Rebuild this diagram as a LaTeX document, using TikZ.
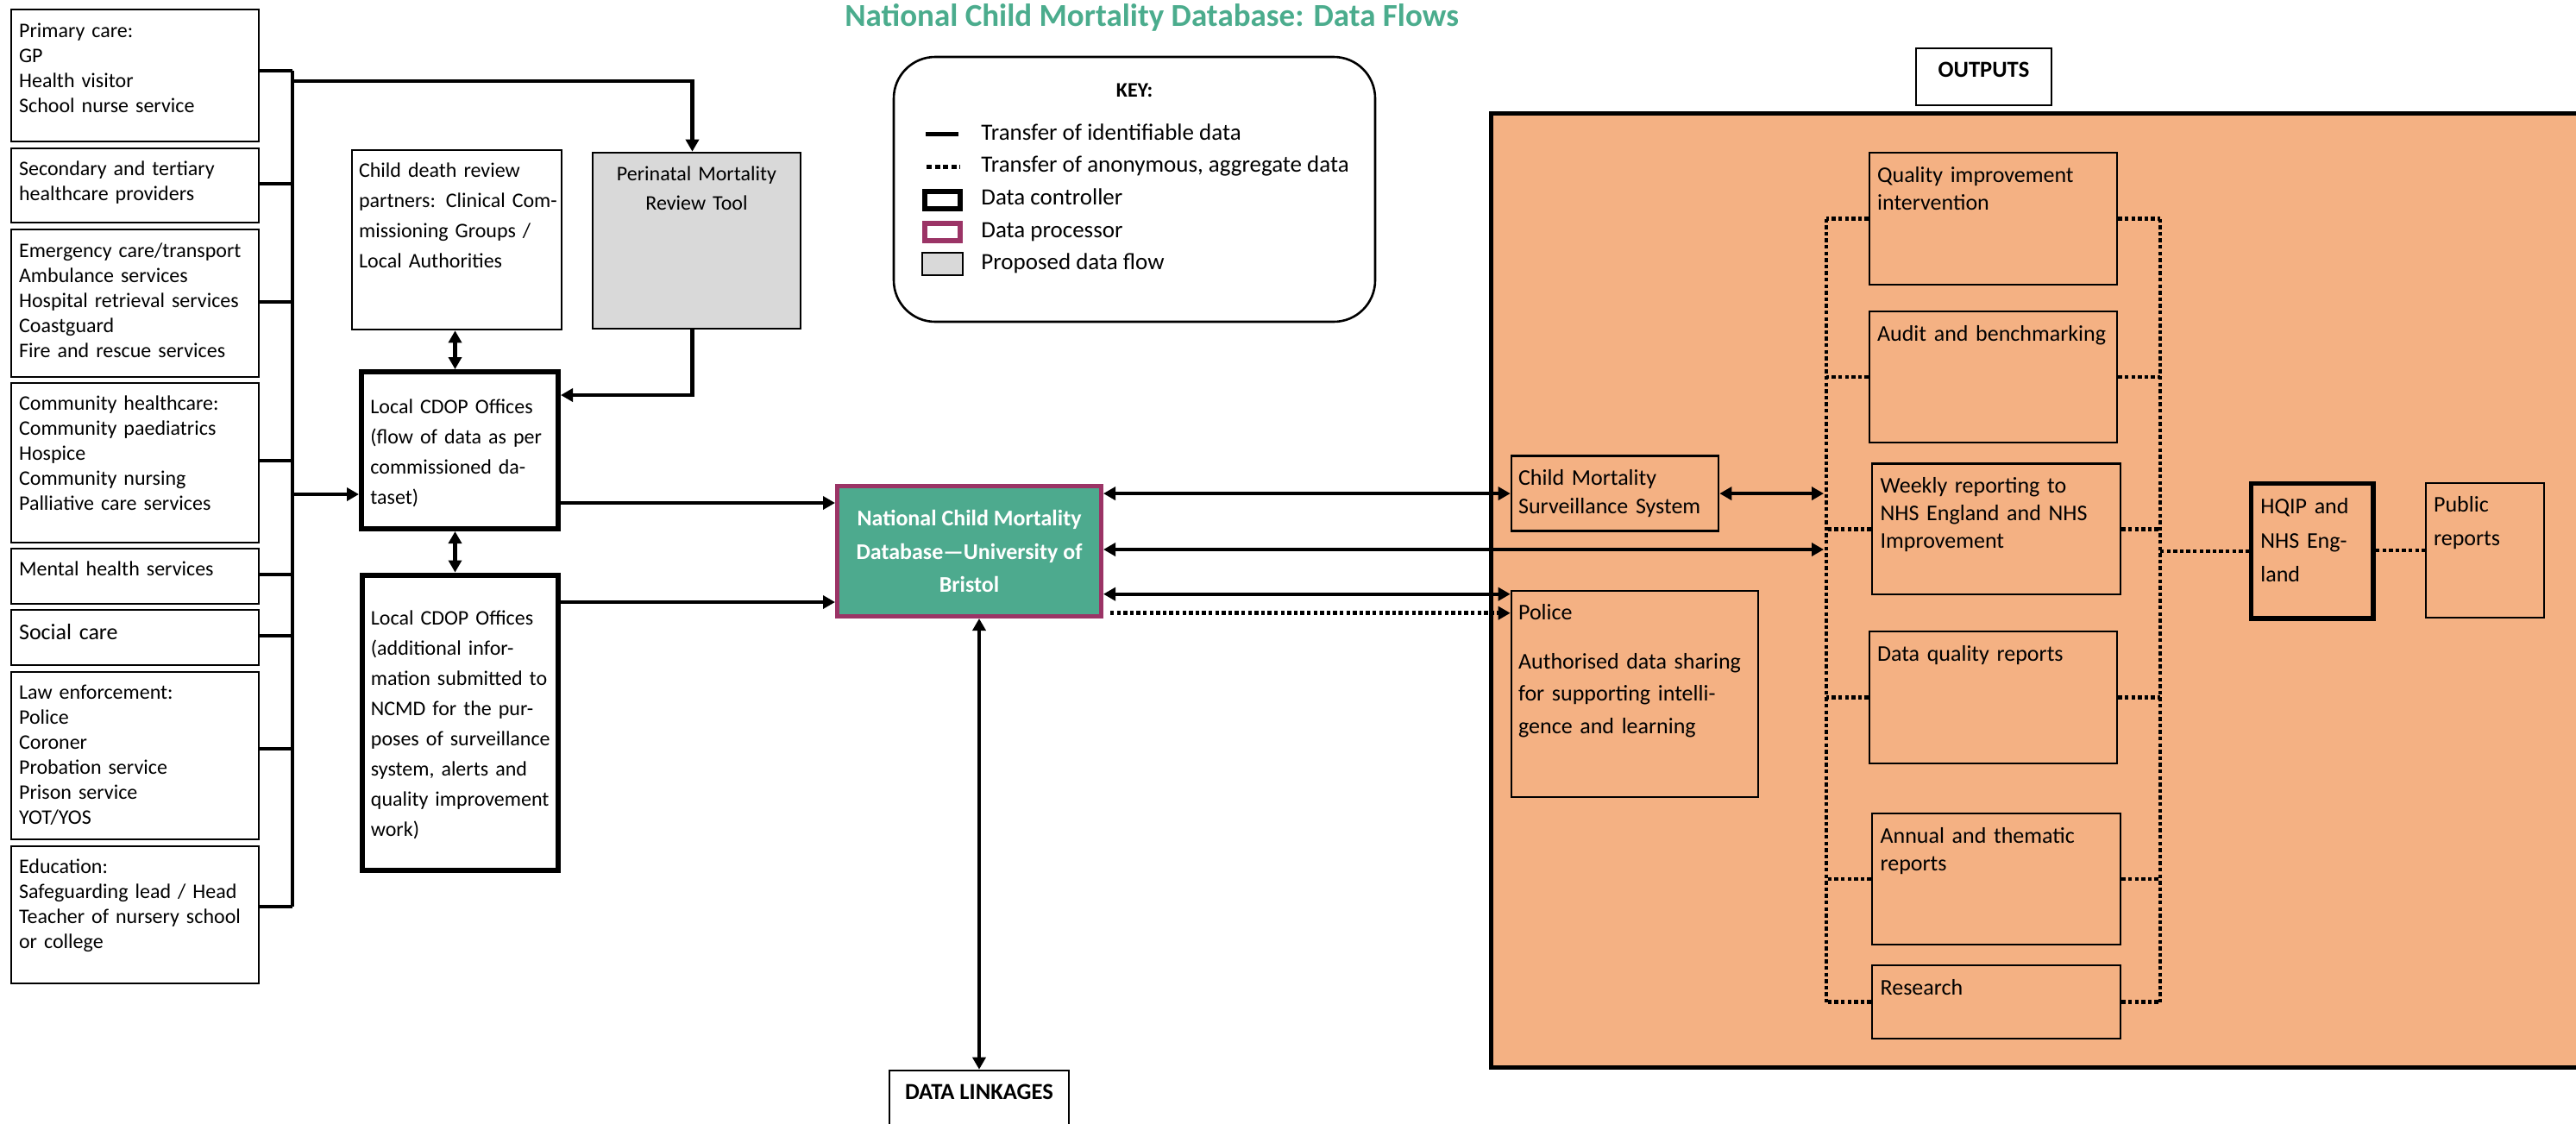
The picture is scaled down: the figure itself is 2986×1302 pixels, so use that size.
\documentclass[tikz,border=0pt]{standalone}
\usepackage{fontspec}
\setmainfont{Carlito}
\usetikzlibrary{
    arrows.meta,
    fit,
    positioning
}

\definecolor{ncmdteal}{RGB}{77,170,142}
\definecolor{titleteal}{RGB}{75,172,141}
\definecolor{procpurple}{RGB}{155,52,102}
\definecolor{outorange}{RGB}{244,177,131}
\definecolor{propgrey}{RGB}{217,217,217}

\newcommand{\fsz}[2]{\fontsize{#1}{#2}\selectfont}

\begin{document}
\begin{tikzpicture}[x=0.5pt, y=-0.5pt,
    thinbox/.style={draw, line width=1.3pt, inner sep=0pt},
    ctrlbox/.style={draw, line width=3pt, inner sep=0pt},
    txt/.style={anchor=north west, inner sep=0pt, align=left, execute at begin node=\strut},
    srctxt/.style={txt, text width=135pt, font=\fsz{12}{14.5}},
    cdoptxt/.style={txt, text width=115pt, font=\fsz{12}{17.5}},
    outtxt/.style={txt, text width=140pt, font=\fsz{13}{16}},
    keytxt/.style={anchor=base west, inner sep=0pt, font=\fsz{13.5}{16}},
    flow/.style={line width=2.1pt},
    anon/.style={line width=2.3pt, dash pattern=on 2.2pt off 1.6pt},
    onehead/.style={-{Triangle[length=7pt,width=7.5pt]}},
    twohead/.style={{Triangle[length=7pt,width=7.5pt]}-{Triangle[length=7pt,width=7.5pt]}}]
                    \useasboundingbox (0,0) rectangle (2986,1302);
                    \clip (0,0) rectangle (2986,1302);

                    \node[anchor=base, font=\fsz{18.5}{22}\bfseries, text=titleteal] (title) at (1335,30) {National Child Mortality Database: Data Flows};

                    % data sources
                    \node[thinbox, fit={(13,11) (300,164)}] (primary) {};
                    \node[thinbox, fit={(13,172) (300,258)}] (secondary) {};
                    \node[thinbox, fit={(13,266) (300,437)}] (emergency) {};
                    \node[thinbox, fit={(13,444) (300,629)}] (community) {};
                    \node[thinbox, fit={(13,636) (300,700)}] (mental) {};
                    \node[thinbox, fit={(13,707) (300,771)}] (social) {};
                    \node[thinbox, fit={(13,779) (300,973)}] (law) {};
                    \node[thinbox, fit={(13,981) (300,1140)}] (education) {};

                    \node[srctxt] (primary-txt) at ([shift={(10,13)}]primary.north west) {Primary care:\\GP\\Health visitor\\School nurse service};
                    \node[srctxt] (secondary-txt) at ([shift={(10,12)}]secondary.north west) {Secondary and tertiary\\healthcare providers};
                    \node[srctxt] (emergency-txt) at ([shift={(10,13)}]emergency.north west) {Emergency care/transport\\Ambulance services\\Hospital retrieval services\\Coastguard\\Fire and rescue services};
                    \node[srctxt] (community-txt) at ([shift={(10,12)}]community.north west) {Community healthcare:\\Community paediatrics\\Hospice\\Community nursing\\Palliative care services};
                    \node[srctxt] (mental-txt) at ([shift={(10,12)}]mental.north west) {Mental health services};
                    \node[srctxt, font=\fsz{13}{16}] (social-txt) at ([shift={(10,13)}]social.north west) {Social care};
                    \node[srctxt] (law-txt) at ([shift={(10,12)}]law.north west) {Law enforcement:\\Police\\Coroner\\Probation service\\Prison service\\YOT/YOS};
                    \node[srctxt] (education-txt) at ([shift={(10,12)}]education.north west) {Education:\\Safeguarding lead / Head\\Teacher of nursery school\\or college};

                    % local offices
                    \node[thinbox, fit={(408,174) (651,382)}] (childrev) {};
                    \node[thinbox, fill=propgrey, fit={(687,177) (928,381)}] (pmrt) {};
                    \node[ctrlbox, fit={(419,431) (647,613)}] (cdopa) {};
                    \node[ctrlbox, fit={(419.5,666.5) (646.5,1008.5)}] (cdopb) {};

                    \node[cdoptxt] (childrev-txt) at ([shift={(9,8)}]childrev.north west) {Child death review\\partners: Clinical Com-\\missioning Groups /\\Local Authorities};
                    \node[cdoptxt, anchor=north, align=center, font=\fsz{12}{17}] (pmrt-txt) at ([shift={(0,10)}]pmrt.north) {Perinatal Mortality\\Review Tool};
                    \node[cdoptxt] (cdopa-txt) at ([shift={(13,26.5)}]cdopa.north west) {Local CDOP Offices\\(flow of data as per\\commissioned da-\\taset)};
                    \node[cdoptxt] (cdopb-txt) at ([shift={(13,36.5)}]cdopb.north west) {Local CDOP Offices\\(additional infor-\\mation submitted to\\NCMD for the pur-\\poses of surveillance\\system, alerts and\\quality improvement\\work)};

                    % central database
                    \node[draw=procpurple, line width=2.5pt, fill=ncmdteal, inner sep=0pt, fit={(970.5,563.5) (1276.5,714.5)}] (ncmd) {};
                    \node[align=center, text=white, font=\fsz{13}{19.25}\bfseries] (ncmd-txt) at (ncmd.center) {National Child Mortality\\Database---University of\\Bristol};
                    \node[thinbox, fit={(1031,1241) (1239,1340)}] (dlink) {};
                    \node[anchor=base, font=\fsz{13.3}{16}\bfseries] (dlink-txt) at ([shift={(0,35)}]dlink.north) {DATA LINKAGES};

                    % key
                    \node[thinbox, rounded corners=24pt, fit={(1036,66) (1594,373)}] (key) {};
                    \node[anchor=base, font=\fsz{12}{14}\bfseries] (key-title) at ([shift={(0,48)}]key.north) {KEY:};
                    \coordinate (key-id-a) at (1073,155);
                    \coordinate (key-id-b) at (1111,155);
                    \coordinate (key-an-a) at (1074,193);
                    \coordinate (key-an-b) at (1113,193);
                    \draw[line width=2.5pt] (key-id-a) -- (key-id-b);
                    \draw[line width=2.5pt, dash pattern=on 3pt off 1.8pt] (key-an-a) -- (key-an-b);
                    \node[ctrlbox, fit={(1072,222) (1113,242)}] (key-ctrl) {};
                    \node[ctrlbox, draw=procpurple, fit={(1072,259) (1113,279)}] (key-proc) {};
                    \node[thinbox, fill=propgrey, fit={(1069,293) (1116,319)}] (key-prop) {};
                    \node[keytxt] (key-t1) at (1137,162) {Transfer of identifiable data};
                    \node[keytxt] (key-t2) at (1137,199) {Transfer of anonymous, aggregate data};
                    \node[keytxt] (key-t3) at (1137,237) {Data controller};
                    \node[keytxt] (key-t4) at (1137,275) {Data processor};
                    \node[keytxt] (key-t5) at (1137,312) {Proposed data flow};

                    % outputs
                    \node[thinbox, fit={(2221,56) (2378,122)}] (outputs) {};
                    \node[anchor=base, font=\fsz{13.3}{16}\bfseries] (outputs-txt) at ([shift={(0,35)}]outputs.north) {OUTPUTS};
                    \node[draw, line width=2.5pt, fill=outorange, inner sep=0pt, fit={(1728,131) (3050,1237)}] (outarea) {};

                    \node[thinbox, fit={(1752,528.6) (1992,615.6)}] (cmss) {};
                    \node[thinbox, fit={(1752,685) (2038,924)}] (police) {};
                    \node[thinbox, fit={(2167,177) (2454,330)}] (qi) {};
                    \node[thinbox, fit={(2167,361) (2454,513)}] (audit) {};
                    \node[thinbox, fit={(2170,537.5) (2458,689)}] (weekly) {};
                    \node[thinbox, fit={(2167,732) (2454,885)}] (dataq) {};
                    \node[thinbox, fit={(2170,943) (2458,1095)}] (annual) {};
                    \node[thinbox, fit={(2170,1119) (2458,1204)}] (research) {};
                    \node[ctrlbox, line width=2.8pt, fit={(2609.4,560.4) (2751.2,717.2)}] (hqip) {};
                    \node[thinbox, fit={(2812,560) (2949,716)}] (public) {};

                    \node[outtxt, font=\fsz{13}{16.5}] (cmss-txt) at ([shift={(9,11.7)}]cmss.north west) {Child Mortality\\Surveillance System};
                    \node[outtxt, font=\fsz{13}{18.75}] (police-txt) at ([shift={(9,8.5)}]police.north west) {Police\\[9.5pt]Authorised data sharing\\for supporting intelli-\\gence and learning};
                    \node[outtxt] (qi-txt) at ([shift={(10,13)}]qi.north west) {Quality improvement\\intervention};
                    \node[outtxt] (audit-txt) at ([shift={(10,13)}]audit.north west) {Audit and benchmarking};
                    \node[outtxt] (weekly-txt) at ([shift={(10.5,12.5)}]weekly.north west) {Weekly reporting to\\NHS England and NHS\\Improvement};
                    \node[outtxt] (dataq-txt) at ([shift={(10,13)}]dataq.north west) {Data quality reports};
                    \node[outtxt] (annual-txt) at ([shift={(10.5,13)}]annual.north west) {Annual and thematic\\reports};
                    \node[outtxt] (research-txt) at ([shift={(10.5,13)}]research.north west) {Research};
                    \node[outtxt, font=\fsz{13}{19.75}] (hqip-txt) at ([shift={(13.4,10)}]hqip.north west) {HQIP and\\NHS Eng-\\land};
                    \node[outtxt, font=\fsz{13}{19.75}] (public-txt) at ([shift={(10,6.7)}]public.north west) {Public\\reports};

                    % sources to the bus
                    \foreach \n/\yy in {primary/82, secondary/213, emergency/350, community/534, mental/666, social/737, law/868, education/1051} {
                        \coordinate (bus-\n) at (339,\yy);
                        \draw[flow] (\n.east |- bus-\n) -- (bus-\n);
                    }
                    \draw[flow] (bus-primary) -- (bus-education);
                    \coordinate (bus-pmrt) at (339,94);
                    \coordinate (bus-cdop) at (339,573);
                    \coordinate (pmrt-top) at ([xshift=-2.5pt]pmrt.north);
                    \coordinate (pmrt-bot) at ([xshift=-2.5pt]pmrt.south);
                    \coordinate (cdopa-in) at ([yshift=-15pt]cdopa.north east);
                    \coordinate (cd-x) at ([xshift=-1pt]childrev.south);
                    \draw[flow, onehead] (bus-pmrt) -| (pmrt-top);
                    \draw[flow, onehead] (bus-cdop) -- (bus-cdop -| cdopa.west);
                    \draw[flow, onehead] (pmrt-bot) |- (cdopa-in);
                    \draw[flow, twohead] (cd-x) -- (cd-x |- cdopa.north);
                    \draw[flow, twohead] (cd-x |- cdopa.south) -- (cd-x |- cdopb.north);

                    % into the database
                    \coordinate (ncmd-in-a) at ([yshift=-11pt]ncmd.north west);
                    \coordinate (ncmd-in-b) at ([yshift=9.5pt]ncmd.south west);
                    \draw[flow, onehead] (cdopa.east |- ncmd-in-a) -- (ncmd-in-a);
                    \draw[flow, onehead] (cdopb.east |- ncmd-in-b) -- (ncmd-in-b);
                    \draw[flow, twohead] (dlink.north |- ncmd.south) -- (dlink.north);

                    % database to outputs
                    \coordinate (lbus) at (2117,0);
                    \coordinate (rbus) at (2504,0);
                    \coordinate (lbus-tip) at (2114,0);
                    \coordinate (to-lbus) at (2114,637);
                    \coordinate (police-in) at ([yshift=-2.5pt]police.north west);
                    \coordinate (police-anon) at ([yshift=-13.5pt]police.north west);
                    \coordinate (ncmd-anon) at ([xshift=4pt]ncmd.east);
                    \draw[flow, twohead] (ncmd.east |- cmss.west) -- (cmss.west);
                    \draw[flow, twohead] (ncmd.east |- to-lbus) -- (to-lbus);
                    \draw[flow, twohead] (ncmd.east |- police-in) -- (police-in);
                    \draw[anon, onehead] (ncmd-anon |- police-anon) -- (police-anon);
                    \draw[flow, twohead] (cmss.east) -- (cmss.east -| lbus-tip);

                    \foreach \n in {qi, audit, weekly, dataq, annual, research} {
                        \draw[anon] (\n.west) -- (\n.west -| lbus);
                        \draw[anon] (\n.east) -- (\n.east -| rbus);
                    }
                    \draw[anon] (qi.west -| lbus) -- (research.west -| lbus);
                    \draw[anon] (qi.east -| rbus) -- (research.east -| rbus);
                    \draw[anon] (hqip.west -| rbus) -- (hqip.west);
                    \draw[anon] (public.west -| hqip.east) -- (public.west);
                \end{tikzpicture}
\end{document}
